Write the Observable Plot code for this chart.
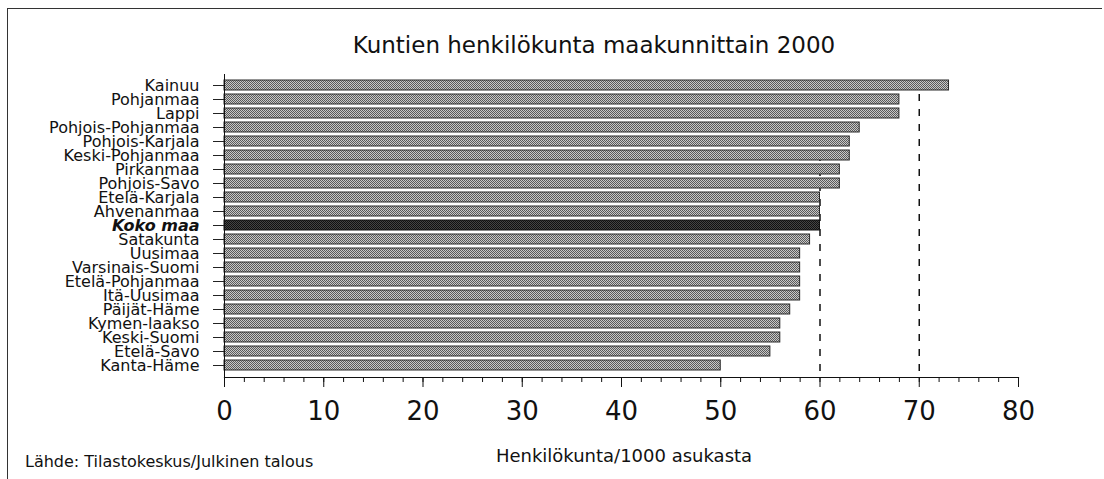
<!DOCTYPE html>
<html>
<head>
<meta charset="utf-8">
<script src="https://cdn.jsdelivr.net/npm/d3@7"></script>
<script src="https://cdn.jsdelivr.net/npm/@observablehq/plot@0.6"></script>
<style>
  html, body { margin: 0; padding: 0; background: #fff; }
  body { width: 1104px; height: 479px; position: relative; overflow: hidden; font-family: "DejaVu Sans", sans-serif; color: #111; }
  #frame { position: absolute; left: 7px; top: 8px; width: 1094px; height: 480px; border-left: 1px solid #333; border-top: 1px solid #333; }
  #chart { position: absolute; left: 0; top: 0; }
  .txt { position: absolute; white-space: nowrap; font-family: "DejaVu Sans", sans-serif; color: #111; }
  #title { left: 594px; top: 33.6px; font-size: 23px; line-height: 23px; transform: translateX(-50%); }
  #xlabel { left: 624px; top: 446.8px; font-size: 18px; line-height: 18px; transform: translateX(-50%); }
  #source { left: 25px; top: 453.5px; font-size: 16px; line-height: 16px; }
</style>
</head>
<body>
<svg width="0" height="0" style="position:absolute">
  <defs>
    <pattern id="hatch" width="2" height="2" patternUnits="userSpaceOnUse">
      <rect width="2" height="2" fill="#c8c8c8"/>
      <rect x="0" y="0" width="1" height="1" fill="#5a5a5a"/>
      <rect x="1" y="1" width="1" height="1" fill="#5a5a5a"/>
    </pattern>
    <pattern id="hatchDark" width="2" height="2" patternUnits="userSpaceOnUse">
      <rect width="2" height="2" fill="#444"/>
      <rect x="0" y="0" width="1" height="1" fill="#111"/>
      <rect x="1" y="1" width="1" height="1" fill="#111"/>
    </pattern>
  </defs>
</svg>
<div id="frame"></div>
<div id="chart"></div>
<div class="txt" id="title">Kuntien henkilökunta maakunnittain 2000</div>
<div class="txt" id="xlabel">Henkilökunta/1000 asukasta</div>
<div class="txt" id="source">Lähde: Tilastokeskus/Julkinen talous</div>
<script>
const regions = ["Kainuu", "Pohjanmaa", "Lappi", "Pohjois-Pohjanmaa", "Pohjois-Karjala",
  "Keski-Pohjanmaa", "Pirkanmaa", "Pohjois-Savo", "Etelä-Karjala", "Ahvenanmaa",
  "Koko maa", "Satakunta", "Uusimaa", "Varsinais-Suomi", "Etelä-Pohjanmaa",
  "Itä-Uusimaa", "Päijät-Häme", "Kymen-laakso", "Keski-Suomi", "Etelä-Savo", "Kanta-Häme"];
const values = [73, 68, 68, 64, 63, 63, 62, 62, 60, 60, 60, 59, 58, 58, 58, 58, 57, 56, 56, 55, 50];
const highlight = "Koko maa";
const refLines = [60, 70];
const majorTicks = [0, 10, 20, 30, 40, 50, 60, 70, 80];
const minorTicks = d3.range(0, 81, 2);

const data = regions.map((name, i) => ({name, value: values[i]}));
const others = data.filter(d => d.name !== highlight);
const total = data.filter(d => d.name === highlight);

const font = "DejaVu Sans";
const chart = Plot.plot({
  width: 1104,
  height: 479,
  marginLeft: 224,
  marginRight: 86,
  marginTop: 74,
  marginBottom: 102,
  style: {fontFamily: font, color: "#111", background: "transparent"},
  x: {domain: [0, 80]},
  y: {domain: regions, paddingInner: 0.28, paddingOuter: 0.14},
  marks: [
    Plot.ruleX(refLines, {stroke: "#111", strokeWidth: 1.5, strokeDasharray: "7,8", y1: () => regions[1], y2: () => regions[regions.length - 1], insetBottom: -3}),
    Plot.barX(others, {x: "value", y: "name", fill: "url(#hatch)", stroke: "#2a2a2a", strokeWidth: 1}),
    Plot.barX(total, {x: "value", y: "name", fill: "url(#hatchDark)", stroke: "#111", strokeWidth: 1}),
    Plot.ruleX([0], {stroke: "#111", strokeWidth: 1}),
    Plot.frame({anchor: "bottom", stroke: "#111", strokeWidth: 1.2}),
    Plot.axisY({tickSize: 11, tickFormat: () => "", label: null, stroke: "#222"}),
    Plot.text(others, {x: 0, y: "name", text: "name", dx: -25, textAnchor: "end", fontSize: 16, fill: "#111"}),
    Plot.text(total, {x: 0, y: "name", text: "name", dx: -25, textAnchor: "end", fontSize: 16, fontWeight: "bold", fontStyle: "italic", fill: "#111"}),
    Plot.axisX({ticks: minorTicks, tickSize: 5, tickFormat: () => "", label: null}),
    Plot.axisX({ticks: majorTicks, tickSize: 10, tickPadding: 14, fontSize: 26, label: null, tickFormat: d => String(d)})
  ]
});
document.getElementById("chart").appendChild(chart);
</script>
</body>
</html>
